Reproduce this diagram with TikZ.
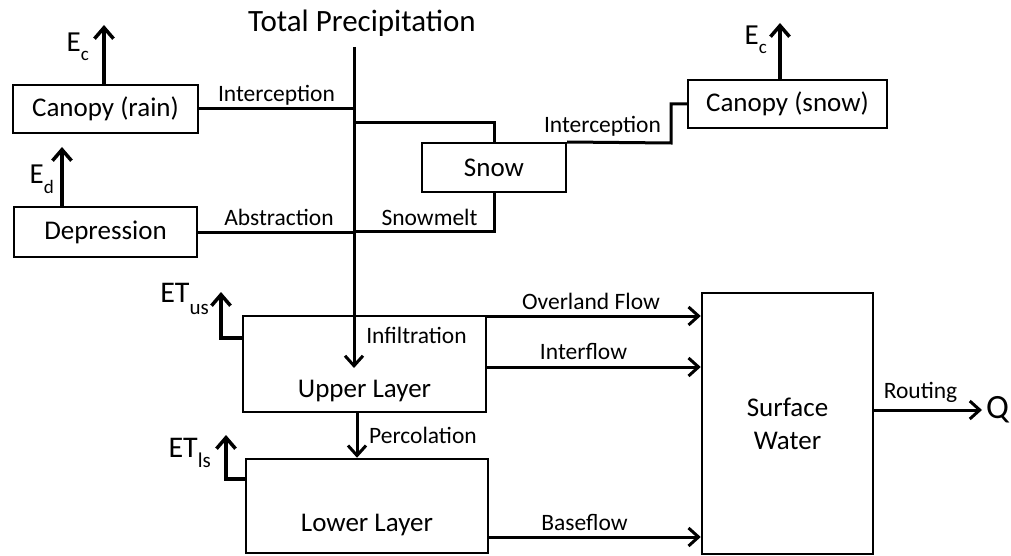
\documentclass[tikz,border=0pt]{standalone}
\usepackage{fontspec}
\setmainfont{Carlito}
\usetikzlibrary{arrows.meta}
% lowered index in a fixed size: [size]{shift}{text}
\newcommand{\lowidx}[3][19]{\raisebox{-#2}{\fontsize{#1}{#1}\selectfont #3}}
\begin{document}
\begin{tikzpicture}[x=1pt,y=-1pt,
  box/.style={draw, line width=2pt, inner sep=0pt, font=\fontsize{27}{32}\selectfont},
  layer/.style={box, line width=2.5pt},
  flow/.style={line width=3pt},
  flowarrow/.style={flow, -{Straight Barb[length=10pt,width=18pt,line width=3pt]}},
  evap/.style={line width=3.5pt, -{Straight Barb[length=11pt,width=19pt,line width=3.5pt]}},
  lbl/.style={inner sep=0pt, anchor=base, font=\fontsize{23.5}{28}\selectfont},
  sym/.style={inner sep=0pt, anchor=base east, font=\fontsize{29}{34}\selectfont},
]
\useasboundingbox (0,0) rectangle (1011,556);

% storages
\node[box, minimum width=185pt, minimum height=48pt] (canrain) at (105.5,109) {Canopy (rain)};
\node[box, minimum width=183pt, minimum height=50pt] (dep) at (105.5,232) {Depression};
\node[box, minimum width=144pt, minimum height=49pt] (snow) at (494,167.5) {Snow};
\node[box, minimum width=199pt, minimum height=48pt] (cansnow) at (787.5,104) {Canopy (snow)};
% soil layers: text set low in the box (baseline = centre + height/2)
\node[layer, minimum width=243pt, minimum height=96pt, text height=66pt, text depth=0pt] (upper) at (364.5,364) {Upper Layer};
\node[layer, minimum width=242pt, minimum height=94pt, text height=51pt, text depth=0pt] (lower) at (367,506) {Lower Layer};
\node[layer, minimum width=171pt, minimum height=261pt, align=center,
      font=\fontsize{27}{33}\selectfont] (surf) at (787.5,423.5) {Surface\\Water};

% precipitation and its branches
\node[inner sep=0pt, anchor=base, font=\fontsize{31}{36}\selectfont] (precip) at (362,32) {Total Precipitation};
\coordinate (ptop) at (354,47);
\coordinate (pinf) at (354,368);
\coordinate (jsnow) at (354,123);
\coordinate (jmelt) at (354,231);
\draw[flowarrow] (ptop) -- (pinf);
\draw[flow] (canrain.east) -- (canrain.east -| ptop);
\draw[flow] (jsnow) -| (snow.north);
\draw[flow] (snow.south) |- (jmelt);
\draw[flow] (dep.east) -- (dep.east -| ptop);
\coordinate (bend) at (671,143);
\draw[flow] (snow.north east) -- (bend) |- (cansnow.west);

% evaporation
\coordinate (ecrain) at (104,25);
\coordinate (edtip) at (62,147);
\coordinate (ecsnow) at (780,23);
\draw[evap] (canrain.north -| ecrain) -- (ecrain);
\draw[evap] (dep.north -| edtip) -- (edtip);
\draw[evap] (cansnow.north -| ecsnow) -- (ecsnow);
\node[sym] (lec) at (89,52) {E\lowidx{9pt}{c}};
\node[sym] (led) at (54,183) {E\lowidx{10pt}{d}};
\node[sym] (lecs) at (767,45) {E\lowidx{9pt}{c}};

% soil evapotranspiration
\coordinate (etus) at (221,292);
\coordinate (etusb) at (221,338);
\coordinate (etls) at (226,435);
\coordinate (etlsb) at (226,479);
\draw[evap] (etusb -| upper.west) -- (etusb) -- (etus);
\draw[evap] (etlsb -| lower.west) -- (etlsb) -- (etls);
\node[sym, font=\fontsize{30}{34}\selectfont] (lus) at (209,302) {ET\lowidx[21]{12pt}{us}};
\node[sym, font=\fontsize{30}{34}\selectfont] (lls) at (211,457) {ET\lowidx[21]{10pt}{ls}};

% percolation
\coordinate (perc) at (357,0);
\draw[flowarrow] (upper.south -| perc) -- (lower.north -| perc);

% flows to surface water
\coordinate (yover) at (0,316);
\coordinate (yinter) at (0,367);
\coordinate (ybase) at (0,537);
\draw[flowarrow] (upper.east |- yover) -- (surf.west |- yover);
\draw[flowarrow] (upper.east |- yinter) -- (surf.west |- yinter);
\draw[flowarrow] (lower.east |- ybase) -- (surf.west |- ybase);

% routing
\node[inner sep=0pt, anchor=west, font=\fontsize{34}{38}\selectfont] (Q) at (986,410) {Q};
\draw[flowarrow] (surf.east |- Q.west) -- ([xshift=-4pt]Q.west);

% flux labels
\node[lbl] (tint) at (276.5,102) {Interception};
\node[lbl] (tabs) at (279,225) {Abstraction};
\node[lbl] (tmelt) at (429.5,225) {Snowmelt};
\node[lbl] (tints) at (602.5,133) {Interception};
\node[lbl] (tinf) at (416.5,343) {Infiltration};
\node[lbl] (tperc) at (423,443) {Percolation};
\node[lbl] (tover) at (591,309) {Overland Flow};
\node[lbl] (tinter) at (583.5,359) {Interflow};
\node[lbl] (tbase) at (584.5,530) {Baseflow};
\node[lbl] (trout) at (920.5,398) {Routing};
\end{tikzpicture}
\end{document}
